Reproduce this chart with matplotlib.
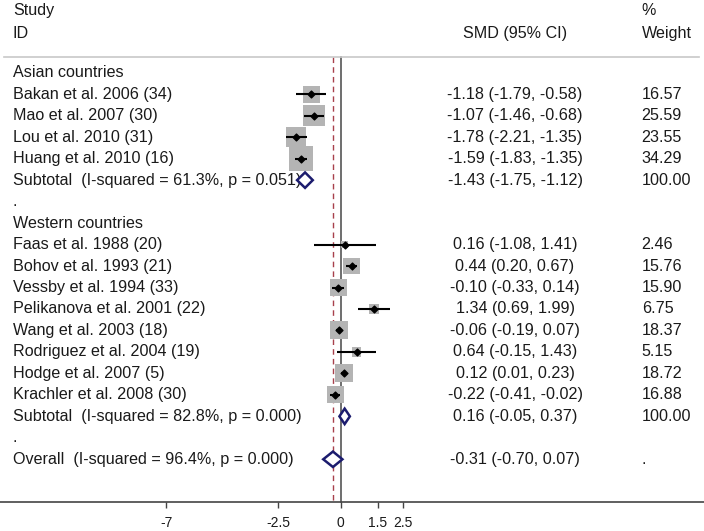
import numpy as np
import matplotlib
matplotlib.use('Agg')
import matplotlib.pyplot as plt
from matplotlib.patches import Polygon

plt.rcParams['font.family'] = ['Liberation Sans', 'DejaVu Sans']

# study rows (label, smd, lower, upper, weight)
asian_labels = ["Bakan et al. 2006 (34)", "Mao et al. 2007 (30)",
                "Lou et al. 2010 (31)", "Huang et al. 2010 (16)"]
asian_smd = [-1.18, -1.07, -1.78, -1.59]
asian_lo = [-1.79, -1.46, -2.21, -1.83]
asian_hi = [-0.58, -0.68, -1.35, -1.35]
asian_w = [16.57, 25.59, 23.55, 34.29]

western_labels = ["Faas et al. 1988 (20)", "Bohov et al. 1993 (21)",
                  "Vessby et al. 1994 (33)", "Pelikanova et al. 2001 (22)",
                  "Wang et al. 2003 (18)", "Rodriguez et al. 2004 (19)",
                  "Hodge et al. 2007 (5)", "Krachler et al. 2008 (30)"]
western_smd = [0.16, 0.44, -0.10, 1.34, -0.06, 0.64, 0.12, -0.22]
western_lo = [-1.08, 0.20, -0.33, 0.69, -0.19, -0.15, 0.01, -0.41]
western_hi = [1.41, 0.67, 0.14, 1.99, 0.07, 1.43, 0.23, -0.02]
western_w = [2.46, 15.76, 15.90, 6.75, 18.37, 5.15, 18.72, 16.88]

# pooled estimates
sub_labels = ["Subtotal  (I-squared = 61.3%, p = 0.051)",
              "Subtotal  (I-squared = 82.8%, p = 0.000)",
              "Overall  (I-squared = 96.4%, p = 0.000)"]
sub_smd = [-1.43, 0.16, -0.31]
sub_lo = [-1.75, -0.05, -0.70]
sub_hi = [-1.12, 0.37, 0.07]
sub_w = ["100.00", "100.00", "."]

xticks = [-7, -2.5, 0, 1.5, 2.5]
xticklabels = ["-7", "-2.5", "0", "1.5", "2.5"]

W, H = 704, 531
fig = plt.figure(figsize=(W / 100, H / 100), dpi=100)
ax = fig.add_axes([0, 0, 1, 1])
ax.set_xlim(-13.68, 14.59)
ax.set_ylim(21.34, -3.39)

txt = dict(fontsize=11.6, color='#1a1a1a', va='center')
tr = ax.get_yaxis_transform()  # x in axes fraction, y in data
xl, xc, xw = 13 / W, 515 / W, 641.7 / W


def ci_text(m, lo, hi):
    return "%.2f (%.2f, %.2f)" % (m, lo, hi)


# header
ax.text(xl, -2.88, "Study", transform=tr, **txt)
ax.text(xl, -1.85, "ID", transform=tr, **txt)
ax.text(xc, -1.85, "SMD (95% CI)", transform=tr, ha='center', **txt)
ax.text(xw, -2.88, "%", transform=tr, **txt)
ax.text(xw, -1.85, "Weight", transform=tr, **txt)
ax.plot([4 / W, 699 / W], [-0.75, -0.75], transform=tr, color='#c8c8c8', lw=1.2)

# vertical reference lines
ax.plot([0, 0], [-0.75, 20], color='#555555', lw=1.2, zorder=1)
ax.plot([sub_smd[2]] * 2, [-0.75, 20], color='#a8404c', lw=1.0,
        ls=(0, (4, 3)), zorder=1)


def draw_studies(start, labels, smd, lo, hi, w):
    rows = np.arange(start, start + len(labels))
    ax.scatter(smd, rows, s=np.array(w) * 9.06, marker='s', color='#b4b4b4',
               linewidths=0, zorder=2)
    ax.hlines(rows, lo, hi, color='black', lw=1.5, zorder=3)
    ax.scatter(smd, rows, s=12, marker='D', color='black', zorder=4)
    for r, lab, m, a, b, ww in zip(rows, labels, smd, lo, hi, w):
        ax.text(xl, r, lab, transform=tr, **txt)
        ax.text(xc, r, ci_text(m, a, b), transform=tr, ha='center', **txt)
        ax.text(xw, r, "%.2f" % ww, transform=tr, **txt)


def draw_pooled(r, lab, m, a, b, w):
    h = 0.36
    d = Polygon([[a, r], [m, r - h], [b, r], [m, r + h]], closed=True,
                facecolor='white', edgecolor='#1c1c6e', lw=1.8, zorder=5)
    ax.add_patch(d)
    ax.text(xl, r, lab, transform=tr, **txt)
    ax.text(xc, r, ci_text(m, a, b), transform=tr, ha='center', **txt)
    ax.text(xw, r, w, transform=tr, **txt)


ax.text(xl, 0, "Asian countries", transform=tr, **txt)
draw_studies(1, asian_labels, asian_smd, asian_lo, asian_hi, asian_w)
draw_pooled(5, sub_labels[0], sub_smd[0], sub_lo[0], sub_hi[0], sub_w[0])
ax.text(xl, 6, ".", transform=tr, **txt)

ax.text(xl, 7, "Western countries", transform=tr, **txt)
draw_studies(8, western_labels, western_smd, western_lo, western_hi, western_w)
draw_pooled(16, sub_labels[1], sub_smd[1], sub_lo[1], sub_hi[1], sub_w[1])
ax.text(xl, 17, ".", transform=tr, **txt)

draw_pooled(18, sub_labels[2], sub_smd[2], sub_lo[2], sub_hi[2], sub_w[2])

# x axis
for s in ['top', 'right', 'left']:
    ax.spines[s].set_visible(False)
ax.spines['bottom'].set_position(('data', 20))
ax.spines['bottom'].set_color('#444444')
ax.spines['bottom'].set_linewidth(1.2)
ax.set_yticks([])
ax.set_xticks(xticks)
ax.set_xticklabels(xticklabels)
ax.tick_params(axis='x', direction='out', length=4, width=1.0, color='#444444',
               labelsize=10, labelcolor='#1a1a1a', pad=6)

fig.savefig('out.png', dpi=100, facecolor='white')
